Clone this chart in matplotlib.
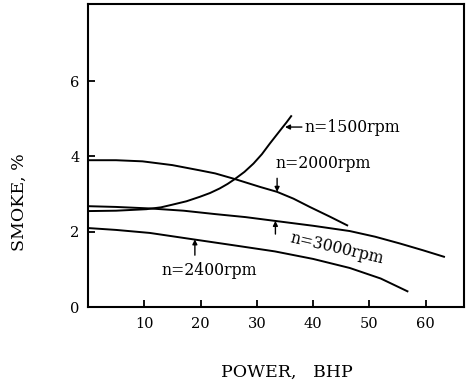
import matplotlib
matplotlib.use("Agg")
import matplotlib.pyplot as plt

# Smoke vs. brake horsepower at several engine speeds
bhp_1500 = [0, 5, 10.4, 13, 15, 17.5, 19.9, 21.7, 23.4, 24.8, 26.1, 27.8,
            29.4, 30.9, 32.3, 33.4, 34.4, 35.3, 36.2]
smoke_1500 = [2.55, 2.56, 2.60, 2.65, 2.72, 2.81, 2.93, 3.03, 3.15, 3.27,
              3.40, 3.59, 3.81, 4.06, 4.34, 4.55, 4.74, 4.91, 5.09]

bhp_2000 = [0, 5, 9.7, 15, 19.9, 22.6, 26.1, 30.6, 33.6, 36.5, 39.4, 43, 46.2]
smoke_2000 = [3.90, 3.90, 3.87, 3.77, 3.63, 3.55, 3.40, 3.19, 3.06, 2.88,
              2.66, 2.40, 2.16]

bhp_3000 = [0, 5, 11, 17, 22.6, 28, 33.2, 40, 46.5, 51, 55.4, 59.5, 63.4]
smoke_3000 = [2.68, 2.66, 2.62, 2.56, 2.47, 2.39, 2.29, 2.16, 2.02, 1.87,
              1.69, 1.51, 1.33]

bhp_2400 = [0, 5, 11, 18.7, 26, 33.2, 40, 46.5, 52, 56.9]
smoke_2400 = [2.10, 2.05, 1.97, 1.80, 1.64, 1.48, 1.28, 1.04, 0.76, 0.41]

x_ticks = [10, 20, 30, 40, 50, 60]
y_ticks = [0, 2, 4, 6]

plt.rcParams["font.family"] = ["DejaVu Serif"]

fig = plt.figure(figsize=(4.75, 3.83), dpi=100)
ax = fig.add_axes([0.185, 0.198, 0.792, 0.791])

lw = 1.4
for xs, ys in [(bhp_1500, smoke_1500), (bhp_2000, smoke_2000),
               (bhp_3000, smoke_3000), (bhp_2400, smoke_2400)]:
    ax.plot(xs, ys, color="black", lw=lw, solid_capstyle="butt",
            solid_joinstyle="round")

ax.set_xlim(0, 66.8)
ax.set_ylim(0, 8.04)
ax.set_xticks(x_ticks)
ax.set_yticks(y_ticks)
ax.tick_params(direction="in", length=5, width=1.3, labelsize=10.5, color="black")
ax.tick_params(axis="x", pad=7)
ax.tick_params(axis="y", pad=6)
for s in ax.spines.values():
    s.set_linewidth(1.5)

ax.set_xlabel("POWER,   BHP", fontsize=12.5, va="center")
ax.xaxis.set_label_coords(0.53, -0.215)
ax.set_ylabel("SMOKE, %", fontsize=12.5, va="center")
ax.yaxis.set_label_coords(-0.181, 0.347)

arrow = dict(arrowstyle="-|>", color="black", lw=1.0, mutation_scale=7,
             shrinkA=0, shrinkB=0)
fs = 11.3

# n=1500rpm
ax.annotate("", xy=(35.0, 4.78), xytext=(38.0, 4.78), arrowprops=arrow)
ax.text(38.4, 4.78, "n=1500rpm", fontsize=fs, va="center", ha="left")

# n=2000rpm
ax.text(33.4, 3.81, "n=2000rpm", fontsize=fs, va="center", ha="left")
ax.annotate("", xy=(33.6, 3.06), xytext=(33.6, 3.42), arrowprops=arrow)

# n=3000rpm
ax.annotate("", xy=(33.3, 2.29), xytext=(33.3, 1.94), arrowprops=arrow)
ax.text(44.2, 1.55, "n=3000rpm", fontsize=fs, va="center", ha="center",
        rotation=-13, rotation_mode="anchor")

# n=2400rpm
ax.annotate("", xy=(19.0, 1.80), xytext=(19.0, 1.38), arrowprops=arrow)
ax.text(13.1, 0.98, "n=2400rpm", fontsize=fs, va="center", ha="left")

fig.savefig("out.png", dpi=100)
